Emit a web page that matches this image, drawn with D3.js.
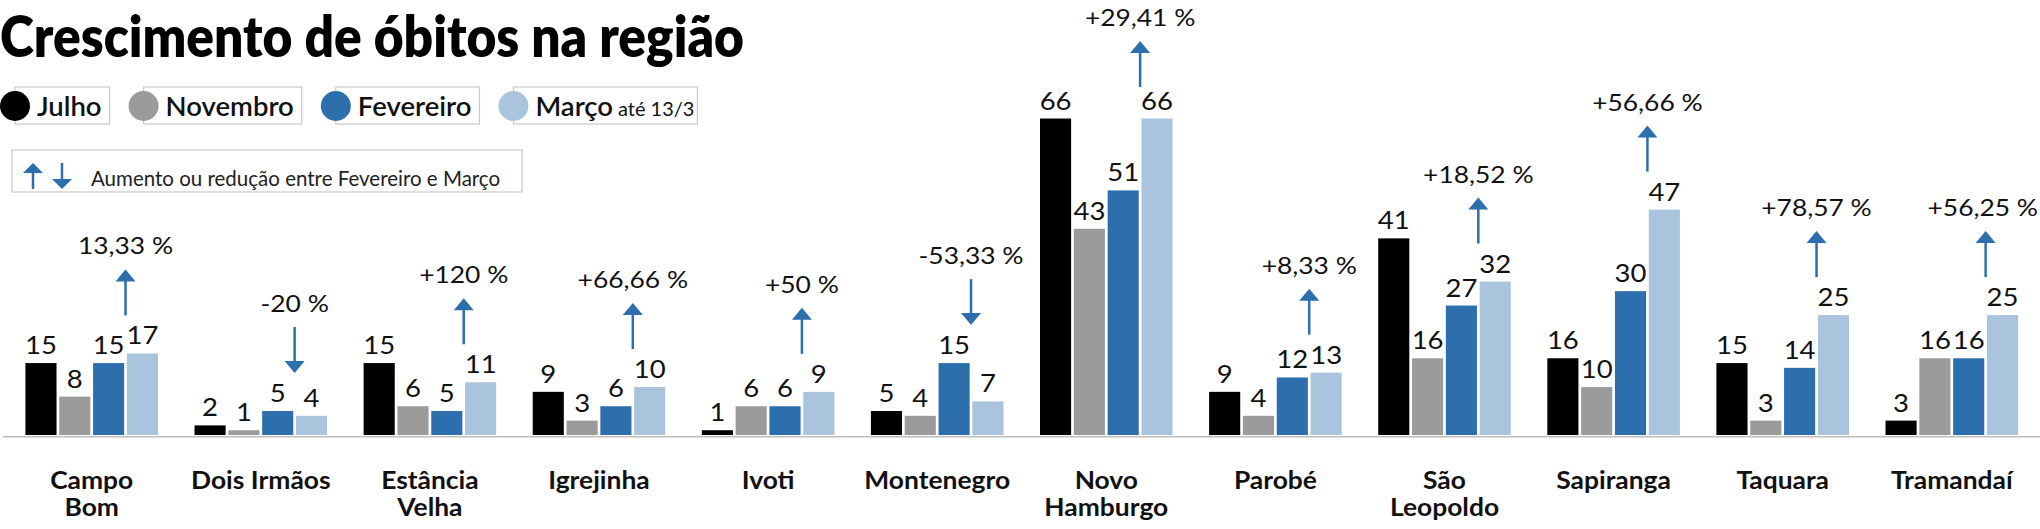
<!DOCTYPE html>
<html>
<head>
<meta charset="utf-8">
<script src="https://cdn.jsdelivr.net/npm/d3@7"></script>
<style>
  html, body { margin: 0; padding: 0; background: #ffffff; }
  svg { display: block; font-family: Lato, "Open Sans", sans-serif; }
</style>
</head>
<body>
<svg id="chart" width="2040" height="529"></svg>
<script>
// ---------- DATA ----------
const cities = ["Campo Bom","Dois Irmãos","Estância Velha","Igrejinha","Ivoti","Montenegro","Novo Hamburgo","Parobé","São Leopoldo","Sapiranga","Taquara","Tramandaí"];
const cityLines = [["Campo","Bom"],["Dois Irmãos"],["Estância","Velha"],["Igrejinha"],["Ivoti"],["Montenegro"],["Novo","Hamburgo"],["Parobé"],["São","Leopoldo"],["Sapiranga"],["Taquara"],["Tramandaí"]];
const julho     = [15, 2, 15, 9, 1, 5, 66, 9, 41, 16, 15, 3];
const novembro  = [ 8, 1,  6, 3, 6, 4, 43, 4, 16, 10,  3, 16];
const fevereiro = [15, 5,  5, 6, 6, 15, 51, 12, 27, 30, 14, 16];
const marco     = [17, 4, 11, 10, 9, 7, 66, 13, 32, 47, 25, 25];
const variacao  = ["13,33 %","-20 %","+120 %","+66,66 %","+50 %","-53,33 %","+29,41 %","+8,33 %","+18,52 %","+56,66 %","+78,57 %","+56,25 %"];
const seriesKeys  = ["julho","novembro","fevereiro","marco"];
const seriesNames = ["Julho","Novembro","Fevereiro","Março"];
const seriesNotes = ["","","","até 13/3"];
const seriesColors = ["#000000","#9b9b9b","#2d6fad","#a9c4dc"];
const titleText = "Crescimento de óbitos na região";
const arrowLegendText = "Aumento ou redução entre Fevereiro e Março";

const seriesValues = [julho, novembro, fevereiro, marco];
const rows = cities.map((c, i) => ({
  city: c, lines: cityLines[i], idx: i,
  values: seriesKeys.map((k, s) => ({ key: k, value: seriesValues[s][i] })),
  fev: fevereiro[i], mar: marco[i], pct: variacao[i]
}));

// ---------- LAYOUT ----------
const W = 2040;
const svg = d3.select("#chart");
const baseY = 435;
const ARROW_BLUE = "#2d6fad";

const x0 = d3.scaleBand().domain(cities).range([7.15, 2036.35])
  .paddingInner(0.216).paddingOuter(0.108);
const x1 = d3.scaleBand().domain(seriesKeys).range([0, x0.bandwidth()])
  .paddingInner(0.08).paddingOuter(0);
const color = d3.scaleOrdinal().domain(seriesKeys).range(seriesColors);
const y = d3.scaleLinear().domain([0, 66]).range([baseY, 118.5]);

// Title
svg.append("text")
  .attr("x", 0).attr("y", 57)
  .attr("font-size", 56).attr("font-weight", 800).attr("fill", "#000")
  .attr("textLength", 744).attr("lengthAdjust", "spacingAndGlyphs")
  .text(titleText);

// Legend row 1
let cx = 15;
const legY = 106;
seriesNames.forEach((name, i) => {
  const g = svg.append("g");
  const box = g.append("rect")
    .attr("x", cx).attr("y", 87).attr("height", 37)
    .attr("fill", "#fff").attr("stroke", "#c8c8c8").attr("stroke-width", 1.2);
  const t = g.append("text")
    .attr("x", cx + 22).attr("y", 116)
    .attr("font-size", 27.5).attr("font-weight", 600).attr("fill", "#111");
  t.append("tspan").text(name);
  if (seriesNotes[i]) {
    t.append("tspan").attr("font-size", 20).attr("font-weight", 400).attr("dx", 5).text(seriesNotes[i]);
  }
  const w = t.node().getComputedTextLength();
  const boxW = 22 + w + 8;
  box.attr("width", boxW);
  g.append("circle").attr("cx", cx).attr("cy", legY).attr("r", 15).attr("fill", seriesColors[i]);
  cx = cx + boxW + 34;
});

// Arrow helpers
function arrowPath(x, yTop, yBot, up, headH, headW) {
  const p = d3.path();
  if (up) {
    p.moveTo(x - headW / 2, yTop + headH); p.lineTo(x + headW / 2, yTop + headH); p.lineTo(x, yTop); p.closePath();
  } else {
    p.moveTo(x - headW / 2, yBot - headH); p.lineTo(x + headW / 2, yBot - headH); p.lineTo(x, yBot); p.closePath();
  }
  return p.toString();
}
function drawArrow(g, x, yTop, yBot, up, headH, headW, sw) {
  g.append("line")
    .attr("x1", x).attr("x2", x)
    .attr("y1", up ? yTop + headH - 1 : yTop)
    .attr("y2", up ? yBot : yBot - headH + 1)
    .attr("stroke", ARROW_BLUE).attr("stroke-width", sw);
  g.append("path").attr("d", arrowPath(x, yTop, yBot, up, headH, headW)).attr("fill", ARROW_BLUE);
}

// Legend row 2 (arrows)
const leg2 = svg.append("g");
const leg2Text = leg2.append("text")
  .attr("x", 91).attr("y", 186)
  .attr("font-size", 20.5).attr("font-weight", 400).attr("fill", "#222")
  .text(arrowLegendText);
const l2w = leg2Text.node().getComputedTextLength();
leg2.insert("rect", "text")
  .attr("x", 12).attr("y", 150).attr("width", 91 + l2w + 22 - 12).attr("height", 42)
  .attr("fill", "#fff").attr("stroke", "#c8c8c8").attr("stroke-width", 1.2);
drawArrow(leg2, 33, 163, 189, true, 10, 20, 2.5);
drawArrow(leg2, 62, 163, 189, false, 10, 20, 2.5);

// Bars
const groups = svg.append("g").selectAll("g.city")
  .data(rows).join("g")
  .attr("class", "city")
  .attr("transform", d => `translate(${x0(d.city)},0)`);

groups.selectAll("rect")
  .data(d => d.values).join("rect")
  .attr("x", d => x1(d.key))
  .attr("width", x1.bandwidth())
  .attr("y", d => y(d.value))
  .attr("height", d => baseY - y(d.value))
  .attr("fill", d => color(d.key));

// Value labels
const STRETCH = 1.1;
groups.selectAll("text.val")
  .data(d => d.values).join("text")
  .attr("class", "val")
  .attr("transform", d => `translate(${x1(d.key) + x1.bandwidth() / 2},${y(d.value) - 9}) scale(${STRETCH},1)`)
  .attr("text-anchor", "middle")
  .attr("font-size", 25).attr("font-weight", 400).attr("fill", "#111")
  .text(d => d.value);

// Baseline
svg.append("line")
  .attr("x1", 3).attr("x2", W)
  .attr("y1", baseY + 1.8).attr("y2", baseY + 1.8)
  .attr("stroke", "#bdbdbd").attr("stroke-width", 1.6);

// Category labels
groups.each(function(d) {
  const g = d3.select(this);
  const t = g.append("text")
    .attr("transform", `translate(${x0.bandwidth() / 2},0) scale(1.1,1)`)
    .attr("text-anchor", "middle")
    .attr("font-size", 24).attr("font-weight", 700).attr("fill", "#111");
  d.lines.forEach((ln, k) => {
    t.append("tspan").attr("x", 0).attr("y", 489 + k * 27).text(ln);
  });
});

// Change arrows + percentages
const ARROW_LEN = 46;
const ARROW_GAP = 38;
const MIN_TOP = 41;
groups.each(function(d) {
  const g = d3.select(this);
  const ax = x1("fevereiro") + x1.bandwidth() + (x1.step() - x1.bandwidth()) / 2;
  const up = d.mar >= d.fev;
  let yBot = y(Math.max(d.fev, d.mar)) - ARROW_GAP;
  let yTop = yBot - ARROW_LEN;
  if (yTop < MIN_TOP) { yTop = MIN_TOP; yBot = yTop + ARROW_LEN; }
  drawArrow(g, ax, yTop, yBot, up, 12, 20, 2.5);
  const t = g.append("text")
    .attr("text-anchor", "middle")
    .attr("font-size", 24).attr("font-weight", 400).attr("fill", "#111")
    .text(d.pct);
  const tw = t.node().getComputedTextLength() * STRETCH;
  const gx = x0(d.city);
  let tx = ax;
  if (gx + tx + tw / 2 > W - 2) tx = W - 2 - gx - tw / 2;
  t.attr("transform", `translate(${tx},${yTop - 15}) scale(${STRETCH},1)`);
});
</script>
</body>
</html>
